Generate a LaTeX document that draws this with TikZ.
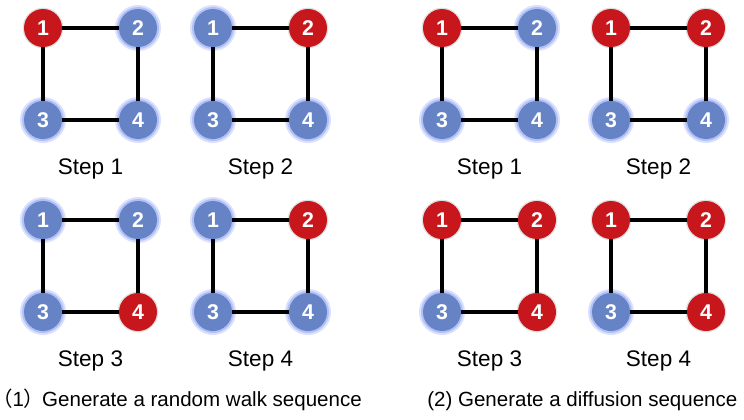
\documentclass[tikz,border=0pt]{standalone}
\usepackage{fontspec}
\setmainfont{Liberation Sans}
\newfontfamily\cjk[RawFeature=+halt]{Noto Sans CJK SC}
\usepackage{xcolor}
\definecolor{walkred}{RGB}{200,22,29}
\definecolor{idleblue}{RGB}{102,132,197}
\definecolor{glowblue}{RGB}{150,170,245}
\def\steplabel#1{Step #1}

\begin{document}
\begin{tikzpicture}[x=0.75pt,y=-0.75pt,
	visited/.style={circle,minimum size=28.5pt,inner sep=0pt,fill=walkred,text=white,
		font=\fontsize{16}{16}\selectfont\bfseries,
		preaction={draw=black!25,line width=2pt,opacity=0.5}},
	unvisited/.style={circle,minimum size=28.5pt,inner sep=0pt,fill=idleblue,text=white,
		font=\fontsize{16}{16}\selectfont\bfseries,
		preaction={draw=glowblue,line width=6pt,opacity=0.35},
		preaction={draw=glowblue,line width=3pt,opacity=0.6}},
	link/.style={line width=2.3pt,draw=black},
	caption/.style={font=\fontsize{16.9}{20}\selectfont,inner sep=0pt}]
	\useasboundingbox (0,0) rectangle (744,419);
	% one square graph per step: x, y, colour of nodes 1-4, step number
	\foreach \g/\x/\y/\a/\b/\c/\d/\s in {
		1/43/28/visited/unvisited/unvisited/unvisited/1,
		2/213/28/unvisited/visited/unvisited/unvisited/2,
		3/43/220/unvisited/unvisited/unvisited/visited/3,
		4/213/220/unvisited/visited/unvisited/unvisited/4,
		5/442/28/visited/unvisited/unvisited/unvisited/1,
		6/611/28/visited/visited/unvisited/unvisited/2,
		7/442/220/visited/visited/unvisited/visited/3,
		8/611/220/visited/visited/unvisited/visited/4} {
		\node (g\g-1) at (\x,\y) [\a] {1};
		\node (g\g-2) at (\x+95,\y) [\b] {2};
		\node (g\g-3) at (\x,\y+92) [\c] {3};
		\node (g\g-4) at (\x+95,\y+92) [\d] {4};
		\draw [link] (g\g-1) -- (g\g-2);
		\draw [link] (g\g-1) -- (g\g-3);
		\draw [link] (g\g-2) -- (g\g-4);
		\draw [link] (g\g-3) -- (g\g-4);
		\node (s\g) at (\x+47.5,\y+146) [caption,anchor=base] {\steplabel{\s}};
	}
	\node (walk) at (2,406) [anchor=base west,inner sep=0pt,font=\fontsize{15.4}{18}\selectfont]
		{{\cjk （}1{\cjk ）}\kern6pt Generate a random walk sequence};
	\node (diffusion) at (427,406) [anchor=base west,inner sep=0pt,font=\fontsize{15.4}{18}\selectfont]
		{(2) Generate a diffusion sequence};
\end{tikzpicture}
\end{document}
